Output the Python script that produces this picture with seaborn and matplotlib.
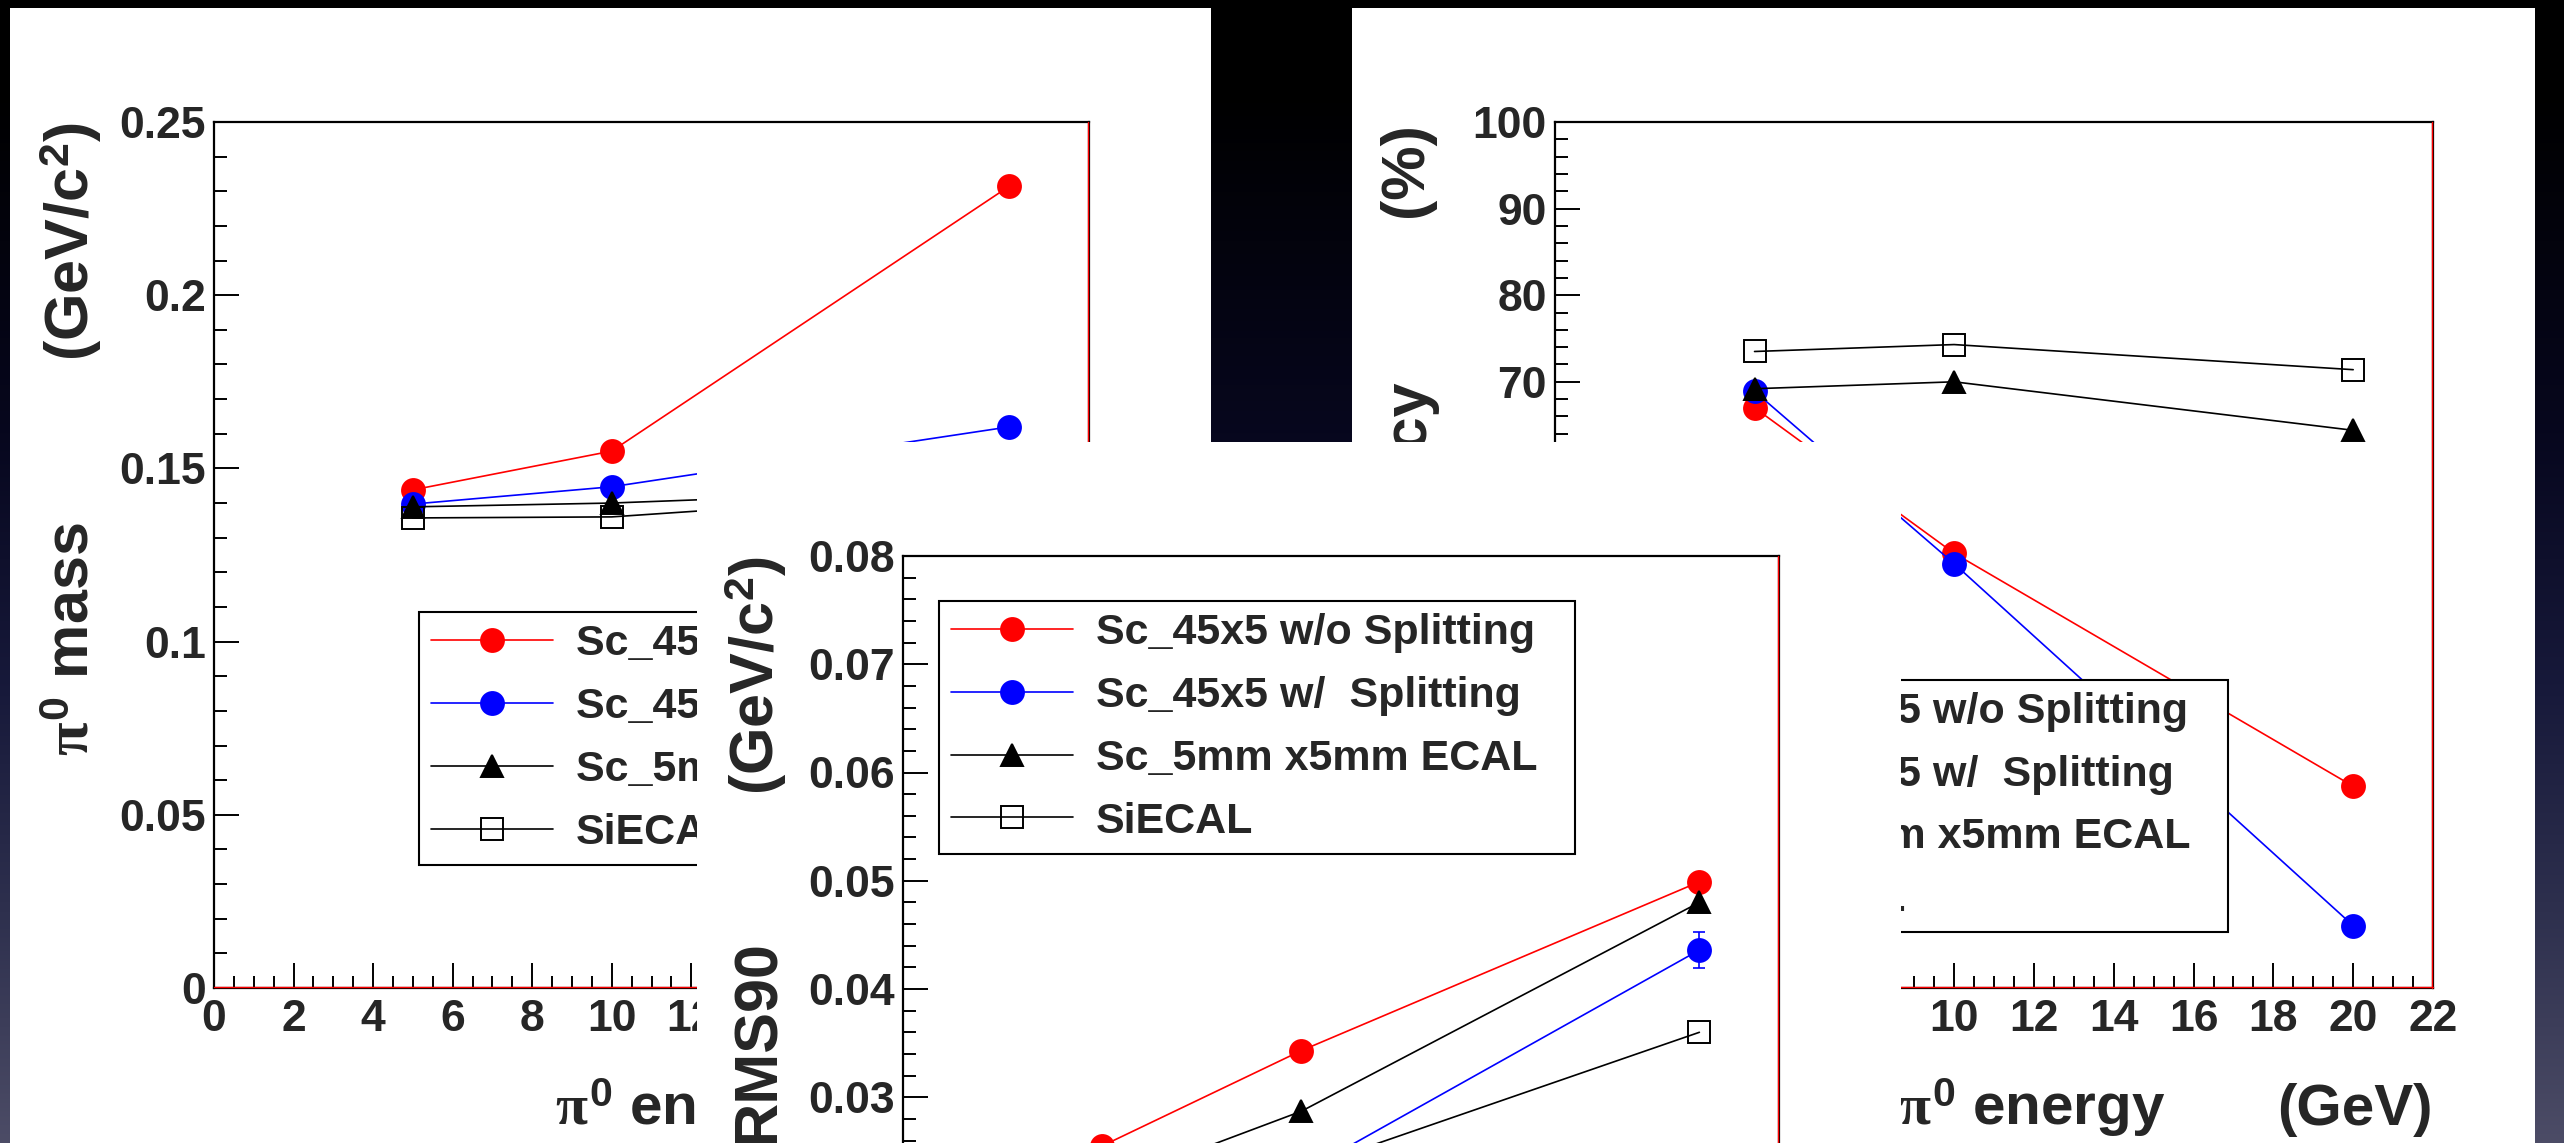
import numpy as np
import pandas as pd
import matplotlib
matplotlib.use("Agg")
import matplotlib.pyplot as plt
import seaborn as sns
from matplotlib.colors import LinearSegmentedColormap
from matplotlib.ticker import MultipleLocator, FuncFormatter
from matplotlib.transforms import offset_copy

# ---------------- data ----------------
energy = [5, 10, 20]
labels = ["Sc_45x5 w/o Splitting", "Sc_45x5 w/  Splitting", "Sc_5mm x5mm ECAL", "SiECAL"]

mass_nosplit = [0.1438, 0.1550, 0.2315]
mass_split = [0.1397, 0.1447, 0.1620]
mass_sc5mm = [0.1389, 0.1400, 0.1443]
mass_siecal = [0.1357, 0.1360, 0.1438]

rms_nosplit = [0.0255, 0.0343, 0.0499]
rms_split = [0.0180, 0.0230, 0.0436]
rms_split_err = [0.0, 0.0, 0.0017]
rms_sc5mm = [0.0218, 0.0287, 0.0480]
rms_siecal = [0.0170, 0.0233, 0.0360]

eff_nosplit = [67.0, 50.2, 23.3]
eff_split = [68.9, 49.0, 7.2]
eff_sc5mm = [69.2, 70.0, 64.4]
eff_siecal = [73.5, 74.3, 71.4]

# ---------------- style ----------------
sns.set_style("ticks")
plt.rcParams["font.family"] = ["Liberation Sans", "DejaVu Sans"]
plt.rcParams["font.weight"] = "bold"
plt.rcParams["mathtext.fontset"] = "custom"
plt.rcParams["mathtext.rm"] = "Liberation Sans:bold"
plt.rcParams["mathtext.bf"] = "Liberation Sans:bold"
plt.rcParams["mathtext.sf"] = "Liberation Sans:bold"
plt.rcParams["mathtext.it"] = "Liberation Serif"

W, H = 2564, 1143
fig = plt.figure(figsize=(W / 100, H / 100), dpi=100)


def fbox(x0, y0, x1, y1):
    return [x0 / W, 1 - y1 / H, (x1 - x0) / W, (y1 - y0) / H]


# background gradient
bg = fig.add_axes([0, 0, 1, 1], zorder=0)
cmap = LinearSegmentedColormap.from_list(
    "bg", [(0, "#000000"), (0.08, "#000000"), (0.38, "#07071e"),
           (0.6, "#17193a"), (0.8, "#2e304e"), (1, "#4c4c66")])
grad = np.linspace(0, 1, 512).reshape(-1, 1)
bg.imshow(grad, aspect="auto", cmap=cmap, extent=[0, 1, 0, 1], origin="upper")
bg.set_xlim(0, 1)
bg.set_ylim(0, 1)
bg.set_axis_off()


def panel(box, z):
    p = fig.add_axes(fbox(*box), zorder=z)
    p.set_facecolor("white")
    p.set_xticks([])
    p.set_yticks([])
    for s in p.spines.values():
        s.set_visible(False)
    return p


fmt = FuncFormatter(lambda v, pos: "%g" % round(v, 6))


def setup_axes(ax, ylim, ymaj, ymin):
    ax.set_facecolor("white")
    ax.set_xlim(0, 22)
    ax.set_ylim(*ylim)
    ax.xaxis.set_major_locator(MultipleLocator(2))
    ax.xaxis.set_minor_locator(MultipleLocator(0.5))
    ax.yaxis.set_major_locator(MultipleLocator(ymaj))
    ax.yaxis.set_minor_locator(MultipleLocator(ymin))
    ax.xaxis.set_major_formatter(fmt)
    ax.yaxis.set_major_formatter(fmt)
    ax.tick_params(which="major", direction="in", length=18, width=1.4,
                   labelsize=32, top=False, right=False, color="black")
    ax.tick_params(which="minor", direction="in", length=9, width=1.4,
                   top=False, right=False, color="black")
    ax.tick_params(axis="x", pad=8)
    ax.tick_params(axis="y", pad=6)
    for s in ax.spines.values():
        s.set_visible(True)
        s.set_color("black")
        s.set_linewidth(1.6)
    # red graph frame lines just inside bottom and right spines
    tr_r = offset_copy(ax.transAxes, fig=fig, x=-1.5, y=0, units="dots")
    ax.plot([1, 1], [0, 1], transform=tr_r, color="red", lw=1.0, clip_on=False, zorder=6)
    tr_b = offset_copy(ax.transAxes, fig=fig, x=0, y=1.5, units="dots")
    ax.plot([0, 1], [0, 0], transform=tr_b, color="red", lw=1.0, clip_on=False, zorder=6)


def draw_series(ax, y, color, marker, filled, label, ms):
    df = pd.DataFrame({"energy": energy, "value": y})
    sns.lineplot(data=df, x="energy", y="value", ax=ax, color=color, marker=marker,
                 markersize=ms, markerfacecolor=color if filled else "none",
                 markeredgecolor=color, markeredgewidth=1.4, linewidth=1.2,
                 label=label, legend=False, errorbar=None)


def draw_all(ax, ys):
    draw_series(ax, ys[0], "#ff0000", "o", True, labels[0], 16.5)
    draw_series(ax, ys[1], "#0000ff", "o", True, labels[1], 16.5)
    draw_series(ax, ys[2], "black", "^", True, labels[2], 16)
    draw_series(ax, ys[3], "black", "s", False, labels[3], 16)
    ax.set_xlabel("")
    ax.set_ylabel("")


def add_legend(ax, x0, top, w):
    leg = ax.legend(loc="upper left", bbox_to_anchor=(x0, top - 0.5, w, 0.5), mode="expand",
                    borderaxespad=0, frameon=True, fancybox=False, edgecolor="black",
                    framealpha=1, fontsize=31, handlelength=2.84, handletextpad=0.53,
                    borderpad=0.28, labelspacing=0.53, numpoints=1)
    leg.get_frame().set_linewidth(1.5)
    return leg


TS = 42   # x axis title size
TSY = 44  # y axis title size


def ytitle(ax, xb, unit, name, name_top):
    ax.text(xb, 1.0, unit, transform=ax.transAxes, rotation=90, rotation_mode="anchor",
            ha="right", va="baseline", fontsize=TSY)
    ax.text(xb, name_top, name, transform=ax.transAxes, rotation=90, rotation_mode="anchor",
            ha="right", va="baseline", fontsize=TSY)


def xtitle(ax):
    ax.text(1.0, -0.158, "(GeV)", transform=ax.transAxes, ha="right", va="baseline", fontsize=TS)
    ax.text(0.695, -0.158, r"$\pi^0$ energy", transform=ax.transAxes, ha="right",
            va="baseline", fontsize=TS)


# ---------------- left panel: pi0 mass ----------------
panel((10, 8, 1211, 1150), 1)
ax1 = fig.add_axes(fbox(214, 122, 1089, 988), zorder=2)
setup_axes(ax1, (0, 0.25), 0.05, 0.01)
draw_all(ax1, [mass_nosplit, mass_split, mass_sc5mm, mass_siecal])
add_legend(ax1, 0.234, 0.434, 0.727)
ytitle(ax1, -0.143, r"(GeV/c$^2$)", r"$\pi^0$ mass", 0.538)
xtitle(ax1)

# ---------------- right panel: efficiency ----------------
panel((1352, 8, 2535, 1150), 1)
ax3 = fig.add_axes(fbox(1555, 122, 2433, 988), zorder=2)
setup_axes(ax3, (0, 100), 10, 2)
draw_all(ax3, [eff_nosplit, eff_split, eff_sc5mm, eff_siecal])
add_legend(ax3, 0.042, 0.356, 0.725)
ytitle(ax3, -0.151, "(%)", "Efficiency", 0.7055)
xtitle(ax3)

# ---------------- middle panel: RMS90 ----------------
panel((697, 442, 1901, 1150), 3)
ax2 = fig.add_axes(fbox(903, 556, 1779, 1422), zorder=4)
setup_axes(ax2, (0, 0.08), 0.01, 0.002)
err_mask = np.array(rms_split_err) > 0
ax2.errorbar(np.array(energy)[err_mask], np.array(rms_split)[err_mask],
             yerr=np.array(rms_split_err)[err_mask], fmt="none", ecolor="#0000ff",
             elinewidth=1.2, capsize=4, capthick=1.2)
draw_all(ax2, [rms_nosplit, rms_split, rms_sc5mm, rms_siecal])
add_legend(ax2, 0.0411, 0.948, 0.726)
ytitle(ax2, -0.147, r"(GeV/c$^2$)", "RMS90", 0.5577)

fig.savefig("out.png", dpi=100)
